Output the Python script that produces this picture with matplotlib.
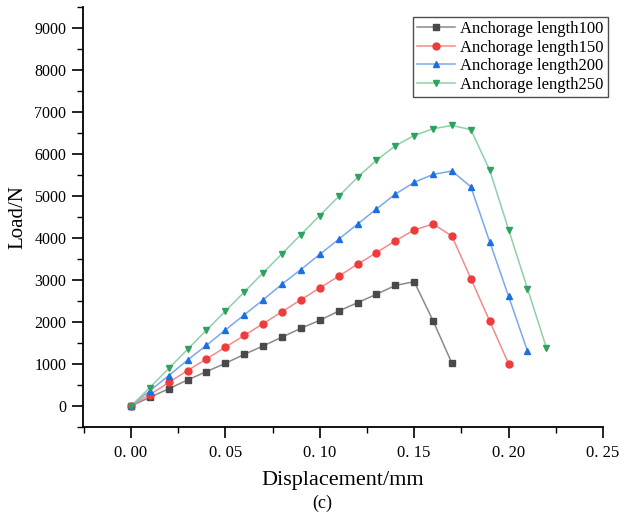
import matplotlib
matplotlib.use("Agg")
import matplotlib.pyplot as plt
from matplotlib.ticker import MultipleLocator, FixedLocator

plt.rcParams['font.family'] = ['Liberation Serif', 'DejaVu Serif']

disp100 = [0.00, 0.01, 0.02, 0.03, 0.04, 0.05, 0.06, 0.07, 0.08, 0.09, 0.10, 0.11, 0.12, 0.13, 0.14, 0.15, 0.16, 0.17]
load100 = [0, 205, 410, 620, 820, 1015, 1230, 1430, 1640, 1850, 2040, 2260, 2460, 2660, 2870, 2960, 2030, 1015]

disp150 = [0.00, 0.01, 0.02, 0.03, 0.04, 0.05, 0.06, 0.07, 0.08, 0.09, 0.10, 0.11, 0.12, 0.13, 0.14, 0.15, 0.16, 0.17, 0.18, 0.19, 0.20]
load150 = [0, 270, 560, 845, 1120, 1400, 1680, 1960, 2245, 2530, 2810, 3090, 3375, 3650, 3935, 4190, 4335, 4045, 3035, 2020, 1005]

disp200 = [0.00, 0.01, 0.02, 0.03, 0.04, 0.05, 0.06, 0.07, 0.08, 0.09, 0.10, 0.11, 0.12, 0.13, 0.14, 0.15, 0.16, 0.17, 0.18, 0.19, 0.20, 0.21]
load200 = [0, 360, 725, 1095, 1445, 1810, 2170, 2530, 2900, 3250, 3610, 3970, 4330, 4690, 5045, 5325, 5515, 5595, 5220, 3910, 2610, 1310]

disp250 = [0.00, 0.01, 0.02, 0.03, 0.04, 0.05, 0.06, 0.07, 0.08, 0.09, 0.10, 0.11, 0.12, 0.13, 0.14, 0.15, 0.16, 0.17, 0.18, 0.19, 0.20, 0.21, 0.22]
load250 = [0, 440, 895, 1350, 1805, 2260, 2715, 3170, 3625, 4080, 4535, 4990, 5445, 5850, 6195, 6440, 6600, 6680, 6580, 5615, 4200, 2795, 1390]

labels = ['Anchorage length100', 'Anchorage length150', 'Anchorage length200', 'Anchorage length250']
x_ticks = [0.00, 0.05, 0.10, 0.15, 0.20, 0.25]
x_ticklabels = ['0. 00', '0. 05', '0. 10', '0. 15', '0. 20', '0. 25']
y_ticks = [0, 1000, 2000, 3000, 4000, 5000, 6000, 7000, 8000, 9000]

series = [
    (disp100, load100, 's', '#4a4a4a', '#8a8a8a'),
    (disp150, load150, 'o', '#ee3b3b', '#f58a8a'),
    (disp200, load200, '^', '#1c6fe0', '#7aa8ee'),
    (disp250, load250, 'v', '#2ea25f', '#8fd0a8'),
]

fig = plt.figure(figsize=(6.22, 5.19), dpi=100)
ax = fig.add_axes([83 / 622, 1 - 427 / 519, (603 - 83) / 622, (427 - 7) / 519])

for (xd, yd, mk, mc, lc), lab in zip(series, labels):
    ax.plot(xd, yd, color=lc, lw=1.1, marker=mk, markersize=5,
            markerfacecolor=mc, markeredgecolor=mc, label=lab)

ax.set_xlim(-0.0254, 0.25)
ax.set_ylim(-500, 9500)
ax.xaxis.set_major_locator(FixedLocator(x_ticks))
ax.set_xticklabels(x_ticklabels)
ax.xaxis.set_minor_locator(MultipleLocator(0.025))
ax.yaxis.set_major_locator(FixedLocator(y_ticks))
ax.yaxis.set_minor_locator(MultipleLocator(500))

ax.spines['top'].set_visible(False)
ax.spines['right'].set_visible(False)
ax.spines['left'].set_linewidth(1.3)
ax.spines['bottom'].set_linewidth(1.3)
ax.tick_params(which='major', direction='out', length=8, width=1.2, labelsize=11.5, pad=4)
ax.tick_params(which='minor', direction='out', length=4.5, width=1.0)
ax.tick_params(axis='x', which='major', pad=5, labelsize=12)

ax.set_xlabel('Displacement/mm', fontsize=16, labelpad=7)
ax.set_ylabel('Load/N', fontsize=15, labelpad=5)

fig.text(0.5177, 0.031, '(c)', fontsize=13, ha='center', va='center')

leg = ax.legend(loc='upper right', bbox_to_anchor=(1.0096, 0.976), fontsize=12,
                frameon=True, fancybox=False, edgecolor='#222222',
                handlelength=2.3, handletextpad=0.3, borderpad=0.25,
                labelspacing=0.15, borderaxespad=0.0)
leg.get_frame().set_linewidth(1.0)

fig.savefig('out.png', dpi=100)
